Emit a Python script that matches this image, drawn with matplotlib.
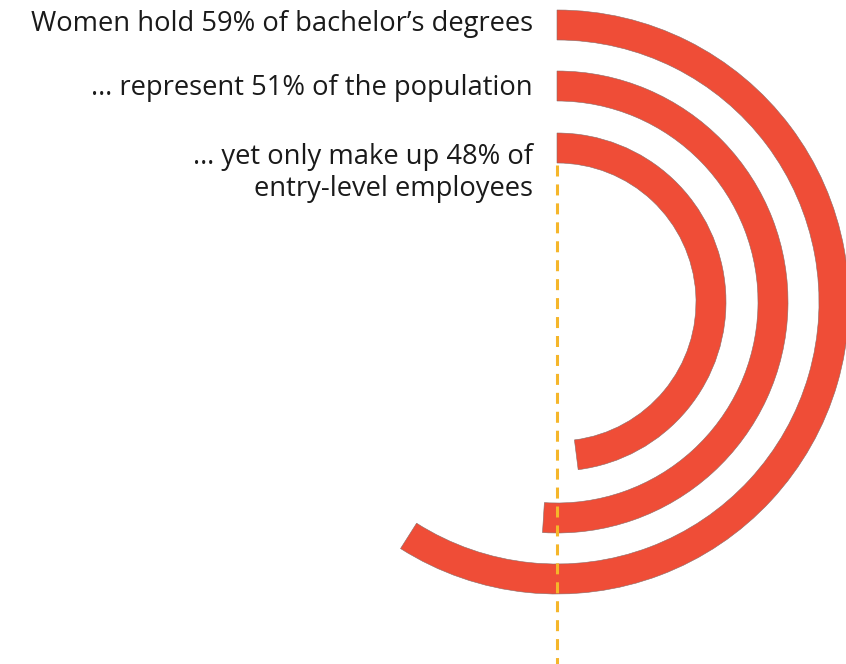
import numpy as np
import matplotlib
matplotlib.use("Agg")
import matplotlib.pyplot as plt

labels = ["Women hold 59% of bachelor\u2019s degrees",
          "\u2026 represent 51% of the population",
          "\u2026 yet only make up 48% of\nentry-level employees"]
values = [59, 51, 48]          # percent of full circle
ring_inner = [262, 201, 139]   # px radii (layout)
ring_width = 30

W, H = 846, 664
CX, CY = 557, 302
RMAX = 300
RED = "#EF4D37"
GOLD = "#F5B62A"

fig = plt.figure(figsize=(W / 100, H / 100), dpi=100)
fig.patch.set_facecolor("white")

# polar axes centered at (CX, CY) px
ax = fig.add_axes([(CX - RMAX) / W, (H - CY - RMAX) / H, 2 * RMAX / W, 2 * RMAX / H],
                  projection="polar")
ax.set_theta_zero_location("N")
ax.set_theta_direction(-1)
ax.set_ylim(0, RMAX)
ax.axis("off")
ax.patch.set_alpha(0)
for v, r0 in zip(values, ring_inner):
    ang = v / 100 * 2 * np.pi
    ax.bar(ang / 2, ring_width, width=ang, bottom=r0, color=RED,
           edgecolor="#8a6a66", linewidth=0.4, align="center")

# overlay axes in pixel coordinates for the guide line and text
ov = fig.add_axes([0, 0, 1, 1])
ov.set_xlim(0, W)
ov.set_ylim(H, 0)
ov.axis("off")
ov.patch.set_alpha(0)
ov.plot([CX, CX], [CY - ring_inner[-1] + 2, H], color=GOLD, lw=2.2,
        linestyle=(0, (3.6, 2.6)))

text_y = [24, 88, 173]
for lab, y in zip(labels, text_y):
    ov.text(533, y, lab, ha="right", va="center", fontsize=19.7,
            family="Open Sans", color="#1a1a1a", linespacing=1.17)

fig.savefig("out.png", dpi=100)
